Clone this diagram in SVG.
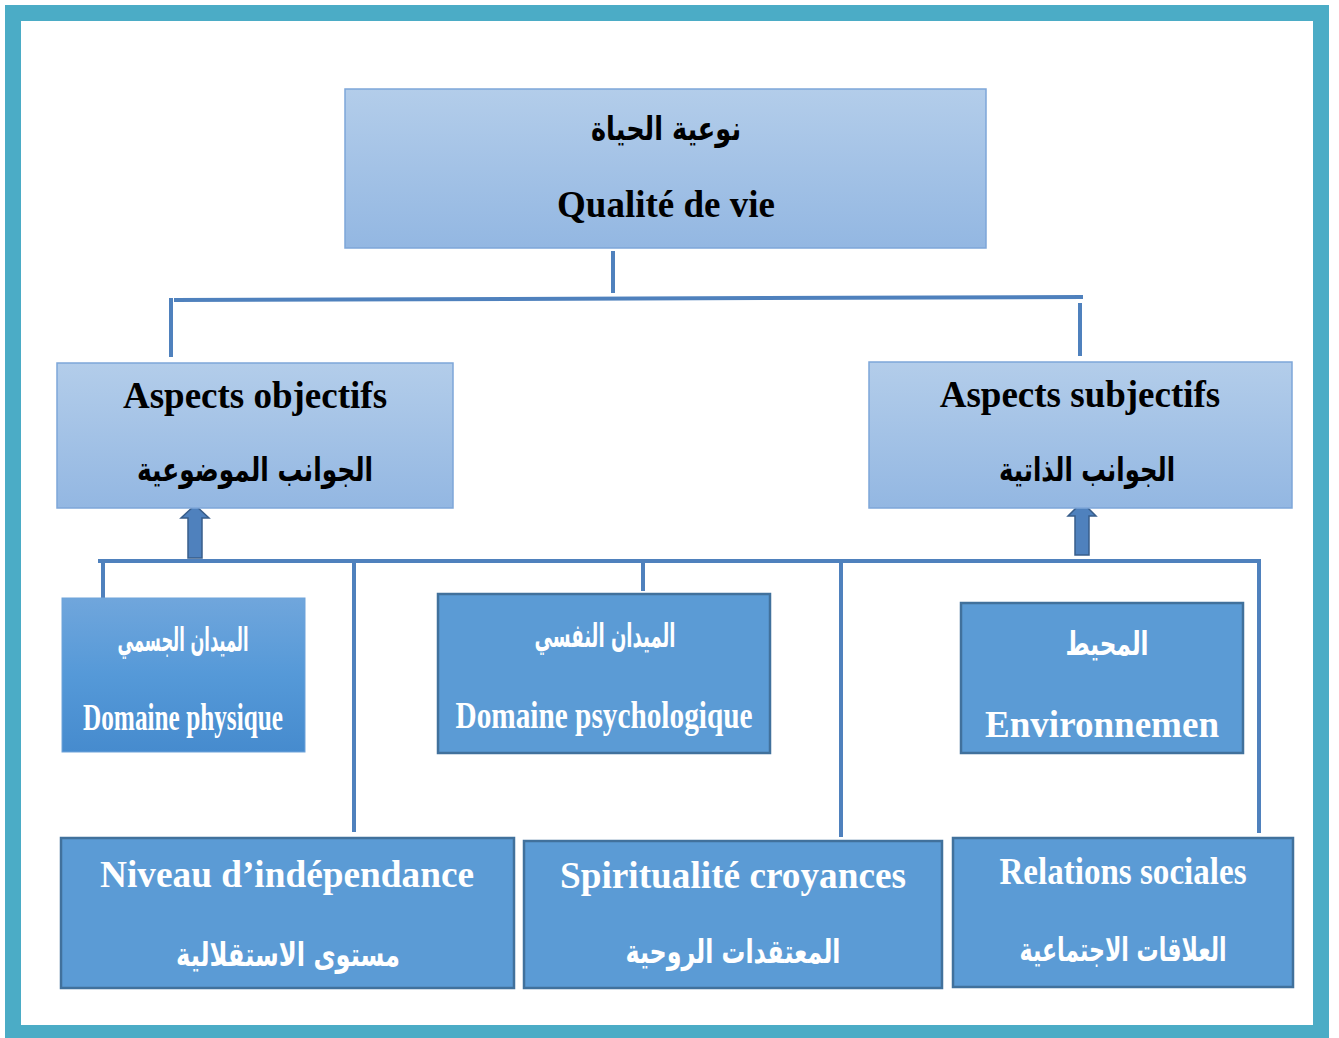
<svg xmlns="http://www.w3.org/2000/svg" width="1339" height="1038" viewBox="0 0 1339 1038">
<defs>
<linearGradient id="gLight" x1="0" y1="0" x2="0" y2="1">
<stop offset="0" stop-color="#B3CDEA"/>
<stop offset="1" stop-color="#93B7E2"/>
</linearGradient>
<linearGradient id="gMid" x1="0" y1="0" x2="0" y2="1">
<stop offset="0" stop-color="#70A6DC"/>
<stop offset="0.5" stop-color="#5599D8"/>
<stop offset="1" stop-color="#468BCE"/>
</linearGradient>
</defs>
<style>
.lt{fill:url(#gLight);stroke:#7EA6D9;stroke-width:1.5}
.dk{fill:#5B9BD5;stroke:#41719C;stroke-width:2.5}
.md{fill:url(#gMid);stroke:#6FA3DA;stroke-width:1}
.ln{stroke:#4F81BD;stroke-width:4;fill:none}
.ar{fill:#4F81BD;stroke:#385D8A;stroke-width:1.5}
.en{font-family:"Liberation Serif","Times New Roman",serif;font-weight:bold;font-size:37px;text-anchor:middle}
.ab{font-family:"DejaVu Sans",sans-serif;font-weight:bold;font-size:33px;text-anchor:middle}
.k{fill:#000}
.w{fill:#fff}
</style>
<rect x="13" y="13" width="1308" height="1020" fill="#fff" stroke="#4BACC6" stroke-width="16"/>
<g id="connectors">
<line class="ln" x1="613" y1="251" x2="613" y2="293"/>
<line class="ln" x1="174" y1="300" x2="1083" y2="297"/>
<line class="ln" x1="171" y1="298" x2="171" y2="357"/>
<line class="ln" x1="1080" y1="303" x2="1080" y2="356"/>
<line class="ln" x1="98" y1="561" x2="1261" y2="561"/>
<line class="ln" x1="103" y1="561" x2="103" y2="605"/>
<line class="ln" x1="354" y1="561" x2="354" y2="832"/>
<line class="ln" x1="643" y1="561" x2="643" y2="591"/>
<line class="ln" x1="841" y1="561" x2="841" y2="837"/>
<line class="ln" x1="1259" y1="561" x2="1259" y2="833"/>
<path class="ar" d="M195,505 L209,518 L202,518 L202,558 L188,558 L188,518 L181,518 Z"/>
<path class="ar" d="M1082,502 L1096,516 L1089,516 L1089,555 L1075,555 L1075,516 L1068,516 Z"/>
</g>
<g id="n-qualite">
<rect class="lt" x="345" y="89" width="641" height="159"/>
<text class="ab k" x="666" y="140" textLength="150" lengthAdjust="spacingAndGlyphs">نوعية الحياة</text>
<text class="en k" x="666" y="217">Qualité de vie</text>
</g>
<g id="n-objectifs">
<rect class="lt" x="57" y="363" width="396" height="145"/>
<text class="en k" x="255" y="408">Aspects objectifs</text>
<text class="ab k" x="255" y="481" textLength="236" lengthAdjust="spacingAndGlyphs">الجوانب الموضوعية</text>
</g>
<g id="n-subjectifs">
<rect class="lt" x="869" y="362" width="423" height="146"/>
<text class="en k" x="1080" y="407">Aspects subjectifs</text>
<text class="ab k" x="1087" y="481" textLength="176" lengthAdjust="spacingAndGlyphs">الجوانب الذاتية</text>
</g>
<g id="n-physique">
<rect class="md" x="62" y="598" width="243" height="154"/>
<text class="ab w" x="183" y="651" font-size="29" textLength="131" lengthAdjust="spacingAndGlyphs">الميدان الجسمي</text>
<text class="en w" x="183" y="730" textLength="200" lengthAdjust="spacingAndGlyphs">Domaine physique</text>
</g>
<g id="n-psycho">
<rect class="dk" x="438" y="594" width="332" height="159"/>
<text class="ab w" x="605" y="647" font-size="29" textLength="141" lengthAdjust="spacingAndGlyphs">الميدان النفسي</text>
<text class="en w" x="604" y="728" font-size="35" textLength="297" lengthAdjust="spacingAndGlyphs">Domaine psychologique</text>
</g>
<g id="n-env">
<rect class="dk" x="961" y="603" width="282" height="150"/>
<text class="ab w" x="1107" y="655" font-size="30" textLength="83" lengthAdjust="spacingAndGlyphs">المحيط</text>
<text class="en w" x="1102" y="737" textLength="234" lengthAdjust="spacingAndGlyphs">Environnemen</text>
</g>
<g id="n-niveau">
<rect class="dk" x="61" y="838" width="453" height="150"/>
<text class="en w" x="287" y="887" textLength="374" lengthAdjust="spacingAndGlyphs">Niveau d’indépendance</text>
<text class="ab w" x="288" y="966" textLength="224" lengthAdjust="spacingAndGlyphs">مستوى الاستقلالية</text>
</g>
<g id="n-spirit">
<rect class="dk" x="524" y="841" width="418" height="147"/>
<text class="en w" x="733" y="888" textLength="346" lengthAdjust="spacingAndGlyphs">Spiritualité croyances</text>
<text class="ab w" x="733" y="963" textLength="215" lengthAdjust="spacingAndGlyphs">المعتقدات الروحية</text>
</g>
<g id="n-relations">
<rect class="dk" x="953" y="838" width="340" height="149"/>
<text class="en w" x="1123" y="884" textLength="247" lengthAdjust="spacingAndGlyphs">Relations sociales</text>
<text class="ab w" x="1123" y="961" textLength="207" lengthAdjust="spacingAndGlyphs">العلاقات الاجتماعية</text>
</g>
</svg>
